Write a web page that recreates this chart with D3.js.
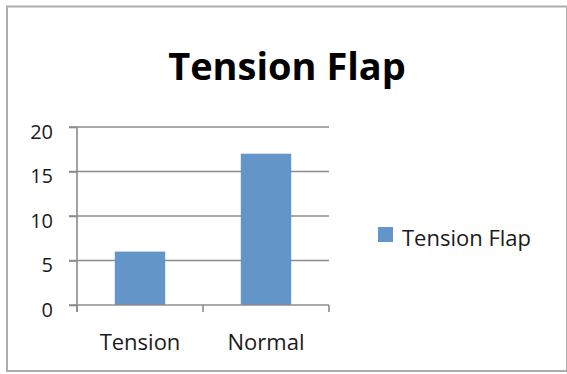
<!DOCTYPE html>
<html>
<head>
<meta charset="utf-8">
<script src="https://cdn.jsdelivr.net/npm/d3@7"></script>
<style>
  html, body { margin: 0; padding: 0; background: #fff; }
  svg { display: block; }
  .axis path, .axis line { stroke: #8c8c8c; stroke-width: 1.6; }
  .axis text { fill: #1a1a1a; }
</style>
</head>
<body>
<svg id="chart" width="567" height="374"></svg>
<script>
// Chart data
const categories = ["Tension", "Normal"];
const seriesName = "Tension Flap";
const values = [6, 17];
const yTicks = [0, 5, 10, 15, 20];
const titleText = "Tension Flap";

const W = 567, H = 374;
const font = "'Open Sans', 'Liberation Sans', sans-serif";
const barColor = "#6495c8";
const gridColor = "#8c8c8c";

const svg = d3.select("#chart");

// Outer frame
svg.append("rect")
  .attr("x", 7).attr("y", 6.5)
  .attr("width", 560).attr("height", 364.5)
  .attr("fill", "#fff")
  .attr("stroke", "#adadad")
  .attr("stroke-width", 2);

// Title
svg.append("text")
  .attr("x", 287).attr("y", 80)
  .attr("text-anchor", "middle")
  .attr("font-family", font)
  .attr("font-weight", 700)
  .attr("font-size", 38)
  .attr("fill", "#000")
  .text(titleText);

// Plot area
const plot = { left: 77, right: 329, top: 127, bottom: 305 };

const x = d3.scaleBand()
  .domain(categories)
  .range([plot.left, plot.right])
  .paddingInner(0.6)
  .paddingOuter(0.3);

const xOuter = d3.scaleBand()
  .domain(categories)
  .range([plot.left, plot.right])
  .padding(0);

const y = d3.scaleLinear()
  .domain([0, 20])
  .range([plot.bottom, plot.top]);

// Horizontal gridlines
svg.append("g")
  .selectAll("line")
  .data(yTicks.filter(d => d > 0))
  .join("line")
  .attr("x1", plot.left - 8).attr("x2", plot.right)
  .attr("y1", d => y(d)).attr("y2", d => y(d))
  .attr("stroke", gridColor)
  .attr("stroke-width", 1.6);

// Y axis
const yAxis = svg.append("g")
  .attr("class", "axis")
  .attr("transform", `translate(${plot.left},0)`)
  .call(d3.axisLeft(y).tickValues(yTicks).tickSize(8).tickSizeOuter(0).tickPadding(16));
yAxis.selectAll("text")
  .attr("font-family", font)
  .attr("font-size", 20)
  .attr("dy", "0.55em");
yAxis.select(".domain").attr("d", `M0,${plot.top}V${plot.bottom + 7}`);

// Bars
svg.append("g")
  .selectAll("rect")
  .data(values)
  .join("rect")
  .attr("x", (d, i) => x(categories[i]))
  .attr("width", x.bandwidth())
  .attr("y", d => y(d))
  .attr("height", d => y(0) - y(d))
  .attr("fill", barColor);

// X axis with ticks between categories
const xAxis = svg.append("g")
  .attr("class", "axis")
  .attr("transform", `translate(0,${plot.bottom})`);
xAxis.append("line")
  .attr("x1", plot.left - 8).attr("x2", plot.right)
  .attr("y1", 0).attr("y2", 0);
const boundaries = [xOuter(categories[0]), ...categories.map(c => xOuter(c) + xOuter.bandwidth())];
xAxis.selectAll(".tk")
  .data(boundaries)
  .join("line")
  .attr("class", "tk")
  .attr("x1", d => d).attr("x2", d => d)
  .attr("y1", 0).attr("y2", 7);
xAxis.selectAll(".lbl")
  .data(categories)
  .join("text")
  .attr("class", "lbl")
  .attr("x", d => x(d) + x.bandwidth() / 2)
  .attr("y", 45)
  .attr("text-anchor", "middle")
  .attr("font-family", font)
  .attr("font-size", 22)
  .text(d => d);

// Legend
const legend = svg.append("g").attr("transform", "translate(378,227)");
legend.append("rect")
  .attr("width", 15).attr("height", 15)
  .attr("fill", barColor);
legend.append("text")
  .attr("x", 24).attr("y", 19)
  .attr("font-family", font)
  .attr("font-size", 22)
  .attr("fill", "#1a1a1a")
  .text(seriesName);
</script>
</body>
</html>
